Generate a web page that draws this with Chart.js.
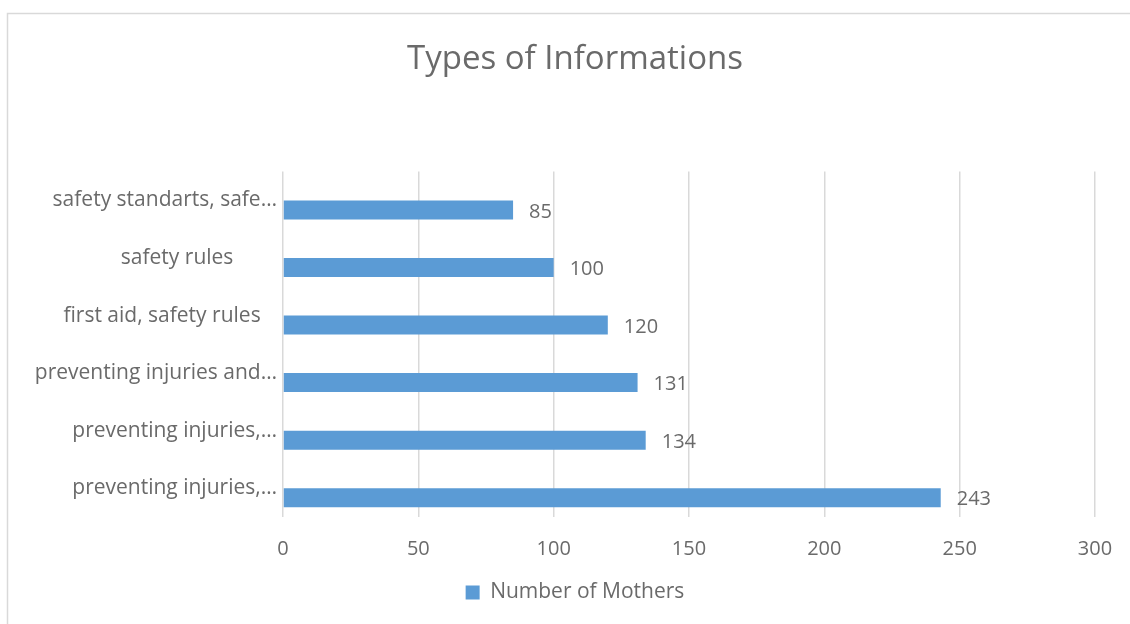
<!DOCTYPE html>
<html>
<head>
<meta charset="utf-8">
<script src="https://cdn.jsdelivr.net/npm/chart.js@4/dist/chart.umd.min.js"></script>
<style>
  html, body { margin: 0; padding: 0; background: #fff; overflow: hidden; }
  /* the Excel frame runs a little past the right edge of the shot */
  #wrap { width: 1150px; height: 624px; position: relative; }
</style>
</head>
<body>
<div id="wrap"><canvas id="chart"></canvas></div>
<script>
// data
const categories = [
  "safety standarts, safe\u2026",
  "safety rules        ",
  "first aid, safety rules   ",
  "preventing injuries and\u2026",
  "preventing injuries,\u2026",
  "preventing injuries,\u2026",
];
const mothers = [85, 100, 120, 131, 134, 243];
// Excel keeps an empty series above the real one in each group
const emptySeries = [null, null, null, null, null, null];
const xTicks = [0, 50, 100, 150, 200, 250, 300];

const textColor = "#6a6a6a";
const font = "'Open Sans', 'Noto Sans', sans-serif";

// frame around the chart, like the Excel chart border
const frame = {
  id: "frame",
  beforeDraw(chart) {
    const ctx = chart.ctx;
    ctx.save();
    ctx.fillStyle = "#fff";
    ctx.fillRect(0, 0, chart.width, chart.height);
    ctx.strokeStyle = "#d9d9d9";
    ctx.lineWidth = 1.5;
    ctx.strokeRect(7.5, 13.5, chart.width + 10, chart.height + 10);
    ctx.restore();
  },
};

// let the long category labels run into the left padding without clipping
const widenLabels = {
  id: "widenLabels",
  afterLayout(chart) {
    chart.scales.y.left = 0;
  },
};

// value labels to the right of each bar
const valueLabels = {
  id: "valueLabels",
  afterDatasetsDraw(chart) {
    const ctx = chart.ctx;
    const meta = chart.getDatasetMeta(1);
    ctx.save();
    ctx.font = "20px " + font;
    ctx.fillStyle = textColor;
    ctx.textAlign = "left";
    ctx.textBaseline = "middle";
    meta.data.forEach((bar, i) => {
      ctx.fillText(String(mothers[i]), bar.x + 16, bar.y + 2);
    });
    ctx.restore();
  },
};

new Chart(document.getElementById("chart"), {
  type: "bar",
  data: {
    labels: categories,
    datasets: [
      {
        label: "",
        data: emptySeries,
        backgroundColor: "#5b9bd5",
      },
      {
        label: "Number of Mothers",
        data: mothers,
        backgroundColor: "#5b9bd5",
        borderWidth: 0,
      },
    ],
  },
  options: {
    indexAxis: "y",
    responsive: true,
    maintainAspectRatio: false,
    animation: false,
    categoryPercentage: 0.66,
    barPercentage: 1.0,
    layout: { padding: { left: 55, right: 55, top: 0, bottom: 11 } },
    plugins: {
      title: {
        display: true,
        text: "Types of Informations",
        color: textColor,
        font: { family: font, size: 33, weight: "normal" },
        padding: { top: 40, bottom: 92 },
      },
      legend: {
        position: "bottom",
        labels: {
          color: textColor,
          font: { family: font, size: 21 },
          boxWidth: 14,
          boxHeight: 14,
          padding: 4,
          filter: (item) => item.text !== "",
        },
      },
      tooltip: { enabled: false },
    },
    scales: {
      x: {
        min: 0,
        max: 300,
        afterBuildTicks: (scale) => {
          scale.ticks = xTicks.map((v) => ({ value: v }));
        },
        afterFit: (scale) => {
          scale.height -= 3;
        },
        grid: { color: "#d9d9d9", lineWidth: 1.5, drawTicks: false },
        border: { display: false },
        ticks: {
          color: textColor,
          font: { family: font, size: 20 },
          padding: 20,
        },
      },
      y: {
        afterFit: (scale) => {
          scale.width = 228;
        },
        grid: { display: false, drawTicks: false },
        border: { display: false },
        ticks: {
          color: textColor,
          font: { family: font, size: 21 },
          padding: 6,
          autoSkip: false,
        },
      },
    },
  },
  plugins: [frame, widenLabels, valueLabels],
});
</script>
</body>
</html>
